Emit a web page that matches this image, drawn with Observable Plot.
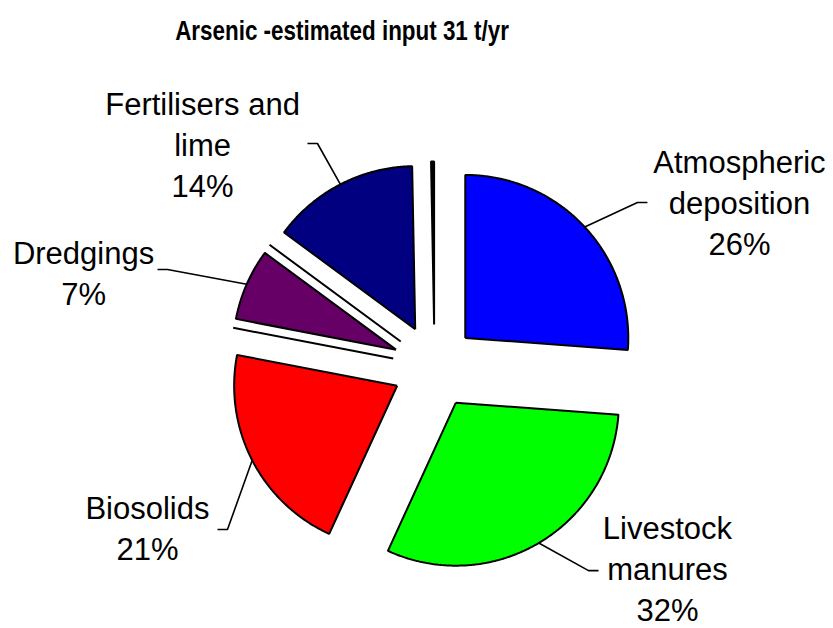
<!DOCTYPE html>
<html><head><meta charset="utf-8">
<script src="https://cdn.jsdelivr.net/npm/d3@7"></script>
<script src="https://cdn.jsdelivr.net/npm/@observablehq/plot@0.6"></script>
<style>
body{margin:0;background:#fff;font-family:"Liberation Sans",Arial,sans-serif;}
#title{width:684px;height:60px;line-height:62px;text-align:center;color:#000;}
#title span{display:inline-block;font-weight:bold;font-size:27px;transform:scaleX(0.83);transform-origin:center;}
</style></head><body>
<div id="title"><span></span></div>
<div id="chart"></div>
<script>
// ---- data ----
const title = "Arsenic -estimated input 31 t/yr";
const categories = ["Atmospheric deposition","Livestock manures","Biosolids","Other (a)","Dredgings","Other (b)","Fertilisers and lime","Other (c)"];
const values = [26.2, 30.7, 21.2, 0, 7.1, 0, 14.6, 0.3];
const percentLabels = ["26%","32%","21%",null,"7%",null,"14%",null];
const labelNames = ["Atmospheric\ndeposition","Livestock\nmanures","Biosolids",null,"Dredgings",null,"Fertilisers and\nlime",null];
const colors = ["#0000FF","#00FF00","#FF0000","#000000","#660066","#000000","#000080","#000000"];

// ---- layout (in pie-radius units relative to the pie centre, y up) ----
const layout = {width: 833, height: 568, cx: 434, cy: 306, radiusPx: 163, explodePx: 42, tailPx: 10};
const labelPos = [[1.871,1.018],[1.429,-1.227],[-1.761,-0.982],null,[-2.153,0.583],null,[-1.423,1.374],null];
const leaderElbow = [[1.245,1.006,1],[0.945,-1.252,1],[-1.270,-1.0,-1],null,[-1.638,0.595,-1],null,[-0.718,1.368,-1],null];

document.querySelector("#title span").textContent = title;

const R = layout.radiusPx;
const explode = layout.explodePx / R;
const tail = layout.tailPx / R;
const arcs = d3.pie().sort(null).value(d => d)(values);

const slices = arcs.map((a, i) => {
  const mid = (a.startAngle + a.endAngle) / 2;
  const ex = explode * Math.sin(mid), ey = explode * Math.cos(mid);
  const pts = [{k: i, x: ex, y: ey}];
  const n = Math.max(1, Math.ceil((a.endAngle - a.startAngle) / (Math.PI / 360)));
  for (let j = 0; j <= n; j++) {
    const t = a.startAngle + (a.endAngle - a.startAngle) * j / n;
    pts.push({k: i, x: ex + Math.sin(t), y: ey + Math.cos(t)});
  }
  pts.push({k: i, x: ex, y: ey});
  return {i, mid, ex, ey, pts};
});

const leaders = [];
const labels = [];
slices.forEach(s => {
  const i = s.i;
  if (!labelNames[i]) return;
  const e = leaderElbow[i];
  leaders.push({k: i, x: s.ex + Math.sin(s.mid), y: s.ey + Math.cos(s.mid)});
  leaders.push({k: i, x: e[0], y: e[1]});
  leaders.push({k: i, x: e[0] + e[2] * tail, y: e[1]});
  labels.push({x: labelPos[i][0], y: labelPos[i][1], text: labelNames[i] + "\n" + percentLabels[i]});
});

const xDomain = [-layout.cx / R, (layout.width - layout.cx) / R];
const yDomain = [-(layout.height - layout.cy) / R, layout.cy / R];

const chart = Plot.plot({
  width: layout.width,
  height: layout.height,
  margin: 0,
  x: {domain: xDomain, axis: null},
  y: {domain: yDomain, axis: null},
  style: {background: "#fff", fontFamily: "'Liberation Sans', Arial, sans-serif"},
  marks: [
    ...slices.map(s => Plot.line(s.pts, {x: "x", y: "y", fill: colors[s.i], stroke: "#000", strokeWidth: 2, strokeLinejoin: "miter", strokeLinecap: "butt", curve: "linear"})),
    Plot.line(leaders, {x: "x", y: "y", z: "k", stroke: "#000", strokeWidth: 1.6, strokeLinejoin: "miter", strokeLinecap: "butt"}),
    Plot.text(labels, {x: "x", y: "y", text: "text", fontSize: 31, lineHeight: 1.32, textAnchor: "middle", lineAnchor: "middle", fill: "#000"})
  ]
});
document.getElementById("chart").appendChild(chart);
</script>
</body></html>
